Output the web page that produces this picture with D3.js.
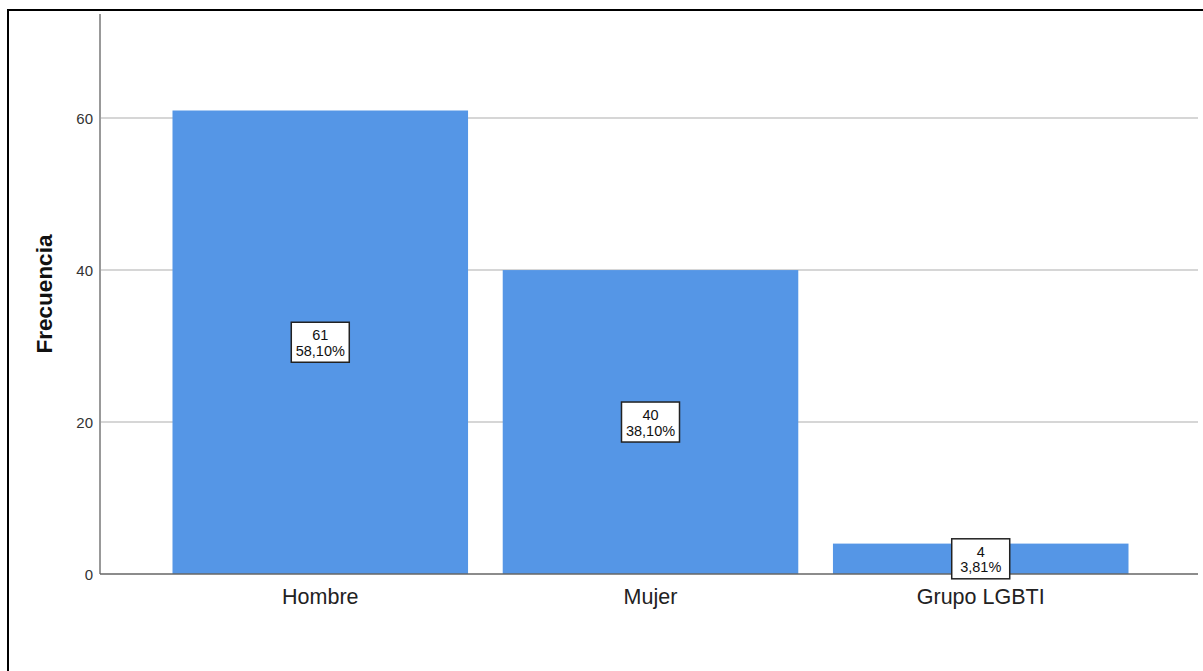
<!DOCTYPE html>
<html><head><meta charset="utf-8">
<script src="https://cdn.jsdelivr.net/npm/d3@7"></script>
<style>body{margin:0;background:#fff;} text{font-family:Arial,"Liberation Sans",sans-serif;}</style>
</head><body>
<svg id="c" width="1203" height="671"></svg>
<script>
const categories = ["Hombre", "Mujer", "Grupo LGBTI"];
const counts = [61, 40, 4];
const percents = ["58,10%", "38,10%", "3,81%"];
const yTicks = [0, 20, 40, 60];
const yLabel = "Frecuencia";

(function(){
const svg = d3.select("#c");
// outer frame
svg.append("path").attr("d","M8,671 L8,10 L1203,10").attr("fill","none").attr("stroke","#000").attr("stroke-width",2);

const pL = 100, pR = 1198, pT = 14, pB = 574;
const y = d3.scaleLinear().domain([0, 73.7]).range([pB, pT]);
const x = d3.scaleBand().domain(categories).range([pL + 1.5, pR + 1.5]).paddingInner(0.105).paddingOuter(0.215);

// gridlines
svg.append("g").selectAll("line").data(yTicks.filter(d=>d>0)).join("line")
  .attr("x1", pL).attr("x2", pR).attr("y1", d=>y(d)).attr("y2", d=>y(d))
  .attr("stroke","#c8c8c8").attr("stroke-width",1.5);

// bars
svg.append("g").selectAll("rect").data(counts).join("rect")
  .attr("x",(d,i)=>x(categories[i])).attr("width",x.bandwidth())
  .attr("y",d=>y(d)).attr("height",d=>pB-y(d)).attr("fill","#5596e6");

// y axis line
svg.append("line").attr("x1",pL).attr("x2",pL).attr("y1",pT).attr("y2",pB).attr("stroke","#999").attr("stroke-width",2);
// x axis line
svg.append("line").attr("x1",pL).attr("x2",pR).attr("y1",pB).attr("y2",pB).attr("stroke","#666").attr("stroke-width",1.5);

// y tick labels
svg.append("g").selectAll("text").data(yTicks).join("text")
  .attr("x",93).attr("y",d=>y(d)+5.5).attr("text-anchor","end")
  .attr("font-size",15).attr("fill","#333").text(d=>d);

// y label
svg.append("text").attr("transform",`translate(52,${(pT+pB)/2}) rotate(-90)`)
  .attr("text-anchor","middle").attr("font-size",22.5).attr("font-weight","bold").attr("fill","#111").text(yLabel);

// x labels
svg.append("g").selectAll("text").data(categories).join("text")
  .attr("x",d=>x(d)+x.bandwidth()/2).attr("y",604).attr("text-anchor","middle")
  .attr("font-size",21.5).attr("fill","#222").text(d=>d);

// data labels
const lab = svg.append("g").selectAll("g").data(counts).join("g")
  .attr("transform",(d,i)=>`translate(${x(categories[i])+x.bandwidth()/2},${(y(d)+pB)/2})`);
lab.append("rect").attr("x",-29).attr("y",-20).attr("width",58).attr("height",40)
  .attr("fill","#fff").attr("stroke","#222").attr("stroke-width",1.5);
lab.append("text").attr("y",-2).attr("text-anchor","middle").attr("font-size",14.5).attr("fill","#111").text(d=>d);
lab.append("text").attr("y",13.5).attr("text-anchor","middle").attr("font-size",14.5).attr("fill","#111").text((d,i)=>percents[i]);
})();
</script>
</body></html>
